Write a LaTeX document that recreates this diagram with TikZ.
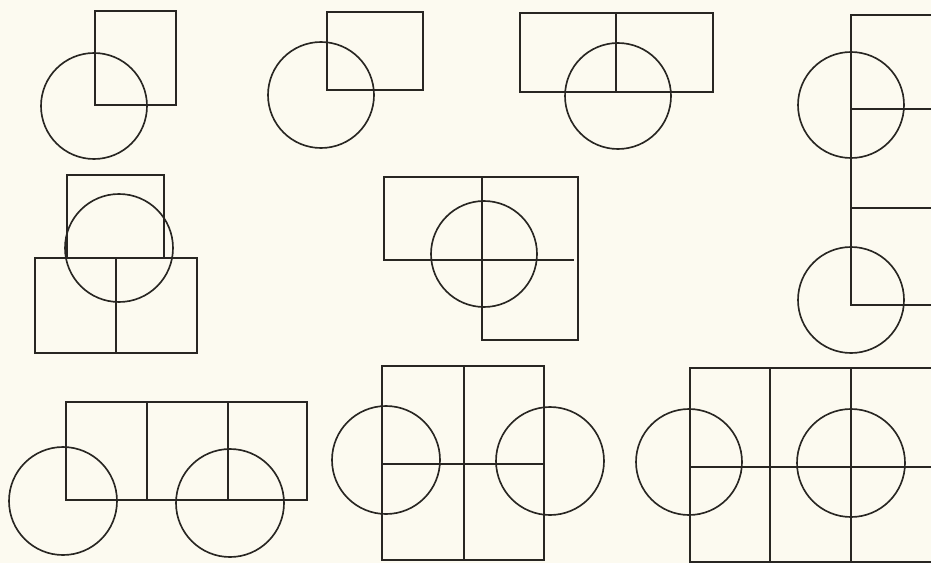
\documentclass[tikz,border=0pt]{standalone}
\usepackage{xcolor}
\definecolor{papercol}{RGB}{252,250,240}
\definecolor{inkcol}{RGB}{40,38,34}

\begin{document}
\begin{tikzpicture}[
  x={(0.03cm,0)}, y={(0,-0.03cm)},
  frame/.style={draw=inkcol, line width=1.5pt, line join=miter},
  ring/.style={draw=inkcol, line width=1.4pt},
  bar/.style={draw=inkcol, line width=1.4pt}
]

%% Paper and bounding box
\fill[papercol] (0,0) rectangle (931,563);
\useasboundingbox (0,0) rectangle (931,563);
\clip (0,0) rectangle (931,563);

%% Row 1: square with circle on its lower left corner
\draw[frame] (95,11) rectangle (176,105);
\draw[ring]  (94,106) circle (53);

%% Row 1: flat rectangle with circle on its lower left corner
\draw[frame] (327,12) rectangle (423,90);
\draw[ring]  (321,95) circle (53);

%% Row 1: two squares side by side, circle under the joint
\draw[frame] (520,13) rectangle (713,92);
\draw[bar]   (616,13) -- (616,92);
\draw[ring]  (618,96) circle (53);

%% Right edge: column of squares with two circles on the left side
\draw[bar]   (931,15) -- (851,15) -- (851,305) -- (931,305);
\draw[bar]   (851,109) -- (931,109);
\draw[bar]   (851,208) -- (931,208);
\draw[ring]  (851,105) circle (53);
\draw[ring]  (851,300) circle (53);

%% Row 2: square on top of a double square, circle at the joint
\draw[frame] (67,175) rectangle (164,258);
\draw[frame] (35,258) rectangle (197,353);
\draw[bar]   (116,258) -- (116,353);
\draw[ring]  (119,248) circle (54);

%% Row 2: three squares in an L, circle at the cross
\draw[frame] (578,260) -- (578,177) -- (384,177) -- (384,260) -- (574,260);
\draw[frame] (482,177) -- (482,340) -- (578,340) -- (578,260);
\draw[ring]  (484,254) circle (53);

%% Row 3: three squares in a row, two circles below
\draw[frame] (66,402) rectangle (307,500);
\draw[bar]   (147,402) -- (147,500);
\draw[bar]   (228,402) -- (228,500);
\draw[ring]  (63,501) circle (54);
\draw[ring]  (230,503) circle (54);

%% Row 3: four squares, circles on both sides
\draw[frame] (382,366) rectangle (544,560);
\draw[bar]   (464,366) -- (464,560);
\draw[bar]   (382,464) -- (544,464);
\draw[ring]  (386,460) circle (54);
\draw[ring]  (550,461) circle (54);

%% Row 3: six squares running off the edge, two circles
\draw[frame] (940,368) -- (690,368) -- (690,562) -- (940,562);
\draw[bar]   (770,368) -- (770,562);
\draw[bar]   (851,368) -- (851,562);
\draw[bar]   (690,467) -- (931,467);
\draw[ring]  (689,462) circle (53);
\draw[ring]  (851,463) circle (54);

\end{tikzpicture}
\end{document}
